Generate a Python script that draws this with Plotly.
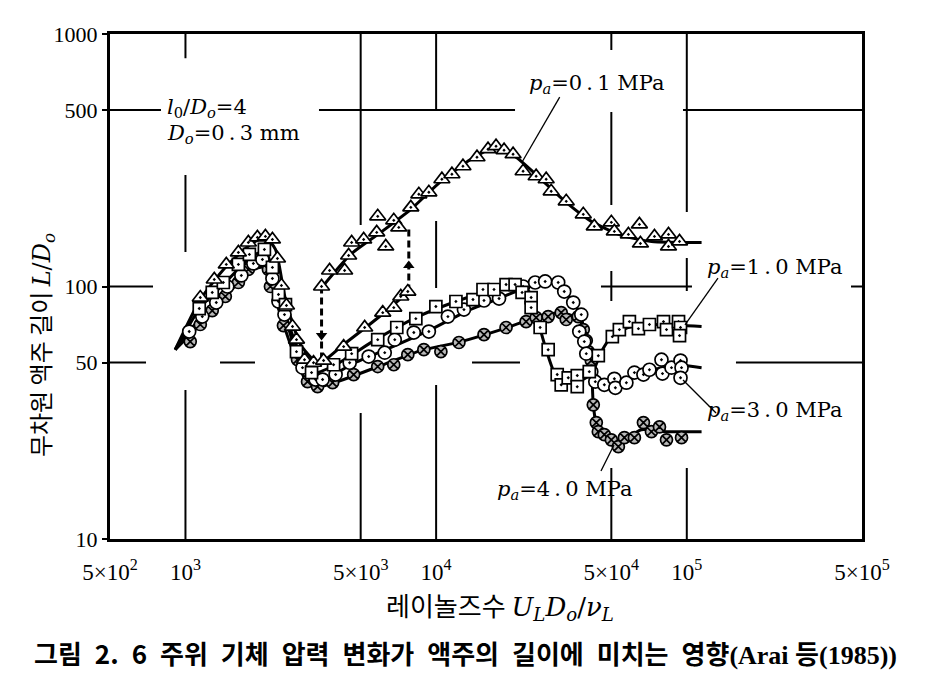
import plotly.graph_objects as go

# ---------------- data ----------------
# fitted curves, Re = U_L D_o / nu_L  vs  L/D_o
C01_LOW_X = [910, 1146, 1442, 1816, 2084, 2286, 2506, 2877, 3304, 3524, 4276, 5236, 6295, 7709]
C01_LOW_Y = [56.2, 88.8, 119.0, 146.8, 156.5, 140.2, 88.8, 58.9, 50.4, 50.4, 58.9, 68.8, 79.6, 94.7]
C01_UP_X = [3524, 4560, 6012, 7925, 10447, 13772, 17338, 20845, 26242, 33037, 41591, 54828, 72277, 114551]
C01_UP_Y = [100.0, 134.0, 163.8, 202.1, 261.0, 319.2, 356.1, 325.0, 265.9, 215.4, 181.1, 159.4, 150.8, 149.4]

C10_X = [910, 1146, 1442, 1816, 2084, 2286, 2624, 3013, 3304, 3972, 5741, 8299, 11995, 17022, 20845,
         23496, 25061, 27479, 30409, 36224, 41591, 45604, 50933, 60117, 79250, 114551]
C10_Y = [56.2, 82.5, 103.7, 130.4, 137.7, 106.6, 67.5, 49.0, 45.6, 49.0, 61.6, 75.3, 87.2, 97.3, 100.0,
         95.5, 77.4, 56.2, 43.5, 42.0, 44.8, 55.2, 64.5, 69.4, 70.7, 69.4]

C30_X = [910, 1146, 1442, 1816, 2028, 2223, 2506, 2877, 3304, 3622, 4560, 6295, 9528, 13152, 17338,
         22856, 27479, 30974, 34594, 37931, 40087, 42364, 46881, 57412, 72277, 95280, 114551]
C30_Y = [56.2, 75.3, 97.3, 119.0, 125.7, 106.6, 75.3, 49.0, 42.8, 42.8, 49.0, 56.2, 67.5, 79.6, 88.8,
         99.1, 103.7, 101.8, 88.8, 75.3, 55.2, 43.5, 40.8, 42.4, 46.8, 48.6, 47.7]

C40_X = [910, 1146, 1442, 1782, 2084, 2286, 2624, 3013, 3396, 4159, 6012, 8690, 12560, 18155, 25061,
         31550, 37239, 39719, 41591, 42364, 44361, 52360, 65917, 82985, 114551]
C40_Y = [56.2, 70.7, 90.4, 114.7, 119.0, 88.8, 58.9, 42.8, 40.1, 42.4, 48.6, 55.7, 60.5, 67.5, 75.3,
         78.8, 74.0, 61.6, 50.4, 34.0, 26.6, 24.0, 27.1, 26.6, 26.6]

# measured points
P01_X = [1146, 1303, 1455, 1626, 1782, 1936, 2084, 2223, 2328, 2415, 2529, 2673, 2773, 2985, 3243, 3556,
         4276, 5188, 6124, 6776, 7228, 7709,
         3491, 3758, 4315, 4477, 4603, 5140, 5794, 5848, 6295, 6776, 7096, 7925, 8531, 9354, 10544, 11561,
         12794, 14555, 16106, 17338, 18664, 20277, 22233, 25061, 27479, 28774, 33037, 38637, 42756, 50003,
         51404, 58479, 64714, 65313, 74302, 84528, 84528, 93541]
P01_Y = [90.4, 106.6, 122.3, 136.4, 149.4, 156.5, 157.9, 153.6, 129.1, 100.9, 84.1, 69.4, 61.6, 51.3, 49.9, 50.9,
         57.8, 68.8, 78.8, 82.5, 91.3, 95.5,
         100.0, 115.7, 115.7, 132.7, 149.4, 153.6, 163.8, 189.6, 144.1, 182.8, 171.4, 205.8, 231.8, 236.1, 265.9, 278.3,
         299.4, 325.0, 349.7, 359.4, 346.5, 334.1, 286.0, 273.3, 265.9, 238.2, 217.4, 193.1, 173.0, 179.5,
         165.3, 160.8, 176.2, 148.1, 157.9, 160.8, 144.1, 150.8]

P10_X = [1135, 1279, 1416, 1626, 1799, 2065, 2223, 2350, 2506, 2773, 3184, 3899, 4603, 5848, 6966, 8299,
         9977, 11995, 14028, 15382, 17022, 19011, 20654, 22029, 23933, 23933, 26002, 27990, 30409, 31550,
         33651, 36559, 36559, 40832, 44361, 50466, 53827, 59020, 64121, 70958, 80724, 82985, 92683, 94406, 93541]
P10_Y = [81.8, 94.7, 103.7, 122.3, 134.0, 140.2, 119.0, 93.0, 84.8, 55.2, 45.6, 49.0, 54.2, 61.6, 68.8, 74.6,
         83.3, 87.2, 88.8, 97.3, 97.3, 101.8, 101.8, 94.7, 90.4, 82.5, 68.8, 56.2, 44.8, 40.8,
         43.5, 44.4, 40.1, 46.0, 53.2, 63.3, 67.5, 72.6, 68.1, 70.7, 72.6, 67.5, 72.6, 68.8, 63.9]

P30_X = [1035, 1167, 1327, 1469, 1671, 1866, 2028, 2223, 2350, 2483, 2931, 3304, 3524, 3972, 4519, 5383,
         6237, 6839, 8147, 9354, 11143, 12912, 15524, 17824, 22233, 24831, 27227, 30690, 32434, 35237,
         37931, 37239, 38994, 39719, 41591, 43152, 46881, 51404, 51880, 57412, 61802, 67143, 70958, 79250,
         79983, 86896, 94406, 95280, 94406]
P30_Y = [66.3, 76.0, 86.4, 100.0, 110.6, 123.4, 128.0, 107.6, 87.2, 77.4, 47.7, 42.8, 42.8, 44.8, 49.9, 52.8,
         54.7, 61.6, 65.7, 66.3, 76.0, 81.0, 88.0, 89.6, 100.0, 103.7, 104.7, 103.7, 95.5, 86.4,
         77.4, 66.3, 60.5, 54.2, 46.0, 42.0, 40.8, 43.1, 39.7, 41.6, 45.6, 44.8, 46.8, 51.3,
         45.2, 47.7, 50.9, 47.7, 43.5]

P40_X = [1045, 1146, 1279, 1442, 1626, 1782, 2143, 2183, 2460, 2799, 3069, 3365, 3864, 4688, 5848, 6776,
         7709, 8933, 10447, 12331, 15524, 19011, 22856, 25061, 27990, 31550, 33037, 36897, 38637, 39719,
         40456, 41591, 42364, 43551, 44361, 46881, 50003, 53333, 56364, 61802, 67143, 72277, 77804, 82985, 95280]
P40_Y = [60.5, 70.7, 80.3, 91.3, 103.7, 116.8, 116.8, 100.0, 70.0, 51.3, 42.0, 40.1, 41.6, 44.8, 48.2, 49.0,
         53.7, 56.2, 55.2, 60.0, 64.5, 68.8, 72.6, 75.3, 76.0, 78.8, 74.0, 76.0, 67.5, 61.1,
         55.2, 50.9, 34.0, 28.9, 26.6, 25.9, 24.7, 23.2, 25.2, 25.2, 28.9, 26.6, 27.8, 24.7, 25.2]

# transition arrows (0.1 MPa)
ARROW_DOWN_X = [3491, 3491]
ARROW_DOWN_Y = [100.0, 51.0]
ARROW_DOWN_HEAD = (3491, 64.0)
ARROW_UP_X = [7780, 7780]
ARROW_UP_Y = [95.5, 171.0]
ARROW_UP_HEAD = (7780, 121.0)

TS = "\u2009"  # thin space, mimics the wide typesetting of the original
X_TICKS = [500, 1000, 5000, 10000, 50000, 100000, 500000]
X_TICKTEXT = ["5×10<sup>2</sup>", "10<sup>3</sup>", "5×10<sup>3</sup>", "10<sup>4</sup>",
              "5×10<sup>4</sup>", "10<sup>5</sup>", "5×10<sup>5</sup>"]
Y_TICKS = [10, 50, 100, 500, 1000]
Y_TICKTEXT = ["10", "50", "100", "500", "1000"]

# broken (dashed-look) grid segments: value, list of (start, end) in paper fraction
V_GRID = [(1000, [(0.952, 1.0), (0.5683, 0.7208), (0.0, 0.295)]),
          (5000, [(0.6218, 1.0), (0.0, 0.2495)]),
          (10000, [(0.8495, 1.0), (0.497, 0.6297), (0.0, 0.305)]),
          (50000, [(0.9683, 1.0), (0.6614, 0.8455), (0.4713, 0.5307), (0.0, 0.1406)]),
          (100000, [(0.6475, 1.0), (0.4911, 0.5564), (0.0, 0.1406)])]
H_GRID = [(500, [(0.0, 0.0678), (0.2779, 0.5386), (0.762, 1.0)]),
          (100, [(0.0, 0.0572), (0.6529, 0.7739), (0.9854, 1.0)]),
          (50, [(0.0, 0.0479), (0.1463, 0.1928), (0.4814, 0.5452), (0.8324, 1.0)])]

SERIF = "Liberation Serif"
WSERIF = "DejaVu Serif"
KR = "Noto Sans CJK KR"

fig = go.Figure()

line_style = dict(color="black", width=3)
for xs, ys in [(C01_LOW_X, C01_LOW_Y), (C01_UP_X, C01_UP_Y), (C10_X, C10_Y), (C30_X, C30_Y), (C40_X, C40_Y)]:
    fig.add_trace(go.Scatter(x=xs, y=ys, mode="lines", line=dict(shape="spline", smoothing=0.6, **line_style),
                             hoverinfo="skip"))

# dashed arrows
for xs, ys in [(ARROW_DOWN_X, ARROW_DOWN_Y), (ARROW_UP_X, ARROW_UP_Y)]:
    fig.add_trace(go.Scatter(x=xs, y=ys, mode="lines", line=dict(color="black", width=3, dash="7px,4px")))
fig.add_trace(go.Scatter(x=[ARROW_DOWN_HEAD[0]], y=[ARROW_DOWN_HEAD[1]], mode="markers",
                         marker=dict(symbol="triangle-down", size=10, color="black")))
fig.add_trace(go.Scatter(x=[ARROW_UP_HEAD[0]], y=[ARROW_UP_HEAD[1]], mode="markers",
                         marker=dict(symbol="triangle-up", size=10, color="black")))

mk_line = dict(color="black", width=1.7)
fig.add_trace(go.Scatter(x=P40_X, y=P40_Y, mode="markers",
                         marker=dict(symbol="circle-x", size=12, color="#b8b8b8", line=mk_line)))
fig.add_trace(go.Scatter(x=P30_X, y=P30_Y, mode="markers",
                         marker=dict(symbol="circle-dot", size=13, color="white", line=mk_line)))
fig.add_trace(go.Scatter(x=P10_X, y=P10_Y, mode="markers",
                         marker=dict(symbol="square-dot", size=12, color="white", line=mk_line)))
fig.add_trace(go.Scatter(x=P01_X, y=P01_Y, mode="markers",
                         marker=dict(symbol="triangle-up-dot", size=14, color="white", line=mk_line)))

# grid segments
shapes = []
for xv, segs in V_GRID:
    for a, b in segs:
        shapes.append(dict(type="line", xref="x", yref="paper", x0=xv, x1=xv, y0=a, y1=b,
                           line=dict(color="black", width=2), layer="below"))
for yv, segs in H_GRID:
    for a, b in segs:
        shapes.append(dict(type="line", xref="paper", yref="y", x0=a, x1=b, y0=yv, y1=yv,
                           line=dict(color="black", width=2), layer="below"))
# leader lines
for x0, y0, x1, y1 in [(0.598, 0.875, 0.548, 0.7465), (0.8085, 0.5168, 0.7646, 0.4238),
                       (0.762, 0.3149, 0.8059, 0.2495), (0.6529, 0.1347, 0.6702, 0.1861)]:
    shapes.append(dict(type="line", xref="paper", yref="paper", x0=x0, y0=y0, x1=x1, y1=y1,
                       line=dict(color="black", width=1.3)))

ann_font = dict(family=WSERIF, size=21, color="black")
pa = "<i>p<sub>a</sub></i>"
annotations = [
    dict(x=0.0731, y=0.853, text="<i>l</i><sub>0</sub>/<i>D<sub>o</sub></i>=4"),
    dict(x=0.0731, y=0.801, text="<i>D<sub>o</sub></i>=0" + TS + "." + TS + "3 mm"),
    dict(x=0.5545, y=0.901, text=pa + "=0" + TS + "." + TS + "1 MPa"),
    dict(x=0.7912, y=0.5366, text=pa + "=1" + TS + "." + TS + "0 MPa"),
    dict(x=0.7912, y=0.2535, text=pa + "=3" + TS + "." + TS + "0 MPa"),
    dict(x=0.512, y=0.097, text=pa + "=4" + TS + "." + TS + "0 MPa"),
]
for a in annotations:
    a.update(xref="paper", yref="paper", xanchor="left", yanchor="middle", showarrow=False, font=ann_font)

annotations.append(dict(
    xref="paper", yref="paper", x=-0.0931, y=0.384, textangle=-90, showarrow=False,
    xanchor="center", yanchor="middle", font=dict(family=KR, size=24, color="black"),
    text="무차원 액주 길이 <span style='font-family:DejaVu Serif'><i>L</i>/<i>D<sub>o</sub></i></span>"))
annotations.append(dict(
    xref="paper", yref="paper", x=0.5186, y=-0.1307, showarrow=False,
    xanchor="center", yanchor="middle", font=dict(family=KR, size=26, color="black"),
    text="레이놀즈수 <span style='font-family:DejaVu Serif'><i>U<sub>L</sub>D<sub>o</sub></i>/<i>ν<sub>L</sub></i></span>"))
ES = "\u2002"  # en space
annotations.append(dict(
    xref="paper", yref="paper", x=0.4734, y=-0.2238, showarrow=False,
    xanchor="center", yanchor="middle", font=dict(family=KR, size=26, color="black", weight="bold"),
    text="그림" + ES + "2." + ES + "6" + ES + "주위" + ES + "기체" + ES + "압력" + ES + "변화가" + ES + "액주의"
         + ES + "길이에" + ES + "미치는" + ES + "영향"
         + "<span style='font-family:Liberation Serif'>(Arai </span>등"
         + "<span style='font-family:Liberation Serif'>(1985))</span>"))

# the page body adds an 8 px margin, so the figure is 8 px smaller and shifted
fig.update_layout(
    width=920, height=668,
    margin=dict(l=102, r=66, t=26, b=137),
    paper_bgcolor="white", plot_bgcolor="white",
    showlegend=False,
    shapes=shapes,
    annotations=annotations,
    xaxis=dict(type="log", range=[2.69897, 5.69897], showgrid=False, zeroline=False,
               tickvals=X_TICKS, ticktext=X_TICKTEXT, ticks="", ticklabelstandoff=10,
               tickfont=dict(family=SERIF, size=23, color="black"),
               showline=True, linecolor="black", linewidth=3, mirror=True),
    yaxis=dict(type="log", range=[1, 3], showgrid=False, zeroline=False,
               tickvals=Y_TICKS, ticktext=Y_TICKTEXT, ticks="outside", ticklen=5, tickwidth=2,
               tickcolor="black",
               tickfont=dict(family=SERIF, size=22, color="black"),
               showline=True, linecolor="black", linewidth=3, mirror=True),
)

fig.write_html("out.html")
